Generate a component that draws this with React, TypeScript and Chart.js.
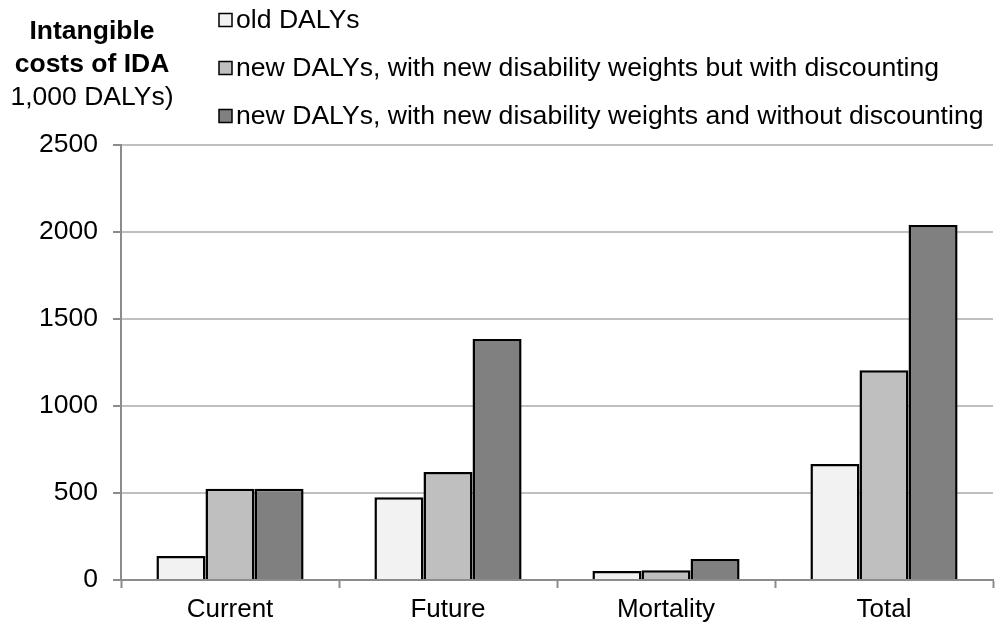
import React, { useEffect, useRef } from "react";
import { Chart, registerables } from "chart.js";

Chart.register(...registerables);

const categories = ["Current", "Future", "Mortality", "Total"];
const seriesNames = [
  "old DALYs",
  "new DALYs, with new disability weights but with discounting",
  "new DALYs, with new disability weights and without discounting",
];
const oldDalys = [138, 476, 52, 667];
const newWithDiscount = [525, 621, 56, 1205];
const newWithoutDiscount = [525, 1385, 120, 2040];
const seriesColors = ["#f2f2f2", "#bfbfbf", "#808080"];
const yTicks = [0, 500, 1000, 1500, 2000, 2500];
const titleLines = ["Intangible", "costs of IDA", "1,000 DALYs)"];

const FONT = "'Liberation Sans', Arial, sans-serif";

const overlayPlugin = {
  id: "overlay",
  afterDraw(chart: any) {
    const ctx = chart.ctx;
    ctx.save();
    // title block
    ctx.textAlign = "center";
    ctx.textBaseline = "middle";
    ctx.fillStyle = "#000";
    titleLines.forEach((t, i) => {
      ctx.font = (i < 2 ? "bold " : "") + "26.5px " + FONT;
      ctx.fillText(t, 92, 32 + i * 33);
    });
    // legend
    ctx.textAlign = "left";
    ctx.font = "26.6px " + FONT;
    chart.data.datasets.forEach((ds: any, i: number) => {
      const y = 20 + i * 48;
      ctx.fillStyle = ds.backgroundColor;
      ctx.fillRect(219, y - 6.5, 13, 13);
      ctx.strokeStyle = "#000";
      ctx.lineWidth = 1.5;
      ctx.strokeRect(219, y - 6.5, 13, 13);
      ctx.fillStyle = "#000";
      ctx.fillText(ds.label, 236, y + 1);
    });
    ctx.restore();
  },
};

export default function App() {
  const ref = useRef<HTMLCanvasElement | null>(null);
  useEffect(() => {
    document.body.style.margin = "0";
    const values = [oldDalys, newWithDiscount, newWithoutDiscount];
    const chart = new Chart(ref.current as HTMLCanvasElement, {
      type: "bar",
      data: {
        labels: categories,
        datasets: values.map((v, i) => ({
          label: seriesNames[i],
          data: v,
          backgroundColor: seriesColors[i],
          borderColor: "#000",
          borderWidth: 2.5,
          categoryPercentage: 0.675,
          barPercentage: 1,
        })),
      },
      options: {
        animation: false,
        responsive: false,
        devicePixelRatio: 1,
        layout: { padding: { top: 145, right: 10, left: 0, bottom: 0 } },
        plugins: { legend: { display: false }, tooltip: { enabled: false }, title: { display: false } },
        scales: {
          x: {
            grid: {
              display: true,
              drawOnChartArea: false,
              offset: true,
              tickLength: 8,
              tickColor: "#8c8c8c",
              tickWidth: 2,
            },
            border: { display: true, color: "#8c8c8c", width: 2 },
            ticks: { color: "#000", font: { family: FONT, size: 26 }, padding: 6 },
            afterFit: (s: any) => {
              s.height = 46;
            },
          },
          y: {
            min: 0,
            max: 2500,
            afterBuildTicks: (s: any) => {
              s.ticks = yTicks.map((v) => ({ value: v }));
            },
            grid: {
              color: "#c0c0c0",
              lineWidth: 2,
              tickLength: 8,
              tickColor: "#8c8c8c",
              tickWidth: 2,
            },
            border: { display: true, color: "#8c8c8c", width: 2 },
            ticks: {
              color: "#000",
              font: { family: FONT, size: 26.5 },
              padding: 15,
              callback: (v: any) => String(v),
            },
            afterFit: (s: any) => {
              s.width = 121;
            },
          },
        },
      },
      plugins: [overlayPlugin],
    });
    return () => chart.destroy();
  }, []);
  return (
    <div style={{ width: 1003, height: 626, background: "#fff" }}>
      <canvas ref={ref} width={1003} height={626} />
    </div>
  );
}
